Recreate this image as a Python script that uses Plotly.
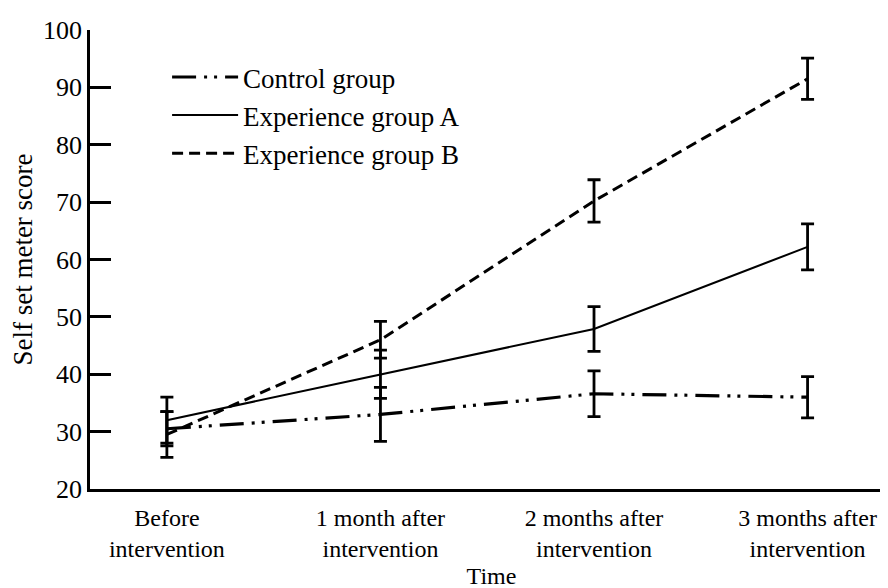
import plotly.graph_objects as go

categories = ["Before<br>intervention", "1 month after<br>intervention",
              "2 months after<br>intervention", "3 months after<br>intervention"]

control_mean = [30.5, 33.0, 36.6, 36.0]
control_err = [3.0, 4.7, 4.0, 3.6]

group_a_mean = [32.0, 40.0, 47.9, 62.2]
group_a_err = [4.0, 4.2, 3.9, 4.0]

group_b_mean = [29.5, 46.0, 70.2, 91.5]
group_b_err = [4.0, 3.2, 3.7, 3.6]

y_ticks = [20, 30, 40, 50, 60, 70, 80, 90, 100]

FONT = "Liberation Serif, Times New Roman, serif"

def err(vals):
    return dict(type="data", array=vals, visible=True, color="black",
                thickness=2.8, width=6.5)

fig = go.Figure()
fig.add_trace(go.Scatter(
    x=categories, y=control_mean, name="Control group", mode="lines",
    line=dict(color="black", width=3.2, dash="24px,8px,3px,7px,3px,8px"),
    error_y=err(control_err), legendgroup="c"))
fig.add_trace(go.Scatter(
    x=categories, y=group_a_mean, name="Experience group A", mode="lines",
    line=dict(color="black", width=2), error_y=err(group_a_err), legendgroup="a"))
fig.add_trace(go.Scatter(
    x=categories, y=group_b_mean, name="Experience group B", mode="lines",
    line=dict(color="black", width=3, dash="11px,6px"),
    error_y=err(group_b_err), legendgroup="b"))

fig.update_layout(
    template="none",
    width=888, height=588,
    margin=dict(l=82, r=3, t=22, b=107, autoexpand=False),
    paper_bgcolor="white", plot_bgcolor="white",
    font=dict(family=FONT, color="black", size=24),
    showlegend=True,
    legend=dict(x=0.096, y=0.95, xanchor="left", yanchor="top",
                font=dict(family=FONT, size=27, color="black"),
                bgcolor="rgba(0,0,0,0)", borderwidth=0, tracegroupgap=0,
                traceorder="grouped", itemwidth=66),
    xaxis=dict(type="category", range=[-0.36, 3.40], showgrid=False,
               showline=True, linecolor="black", linewidth=2.5,
               ticks="", tickfont=dict(family=FONT, size=24, color="black"),
               ticklabelstandoff=5, automargin=False,
               title=dict(text="Time", font=dict(family=FONT, size=24, color="black"),
                          standoff=7),
               zeroline=False),
    yaxis=dict(range=[20, 100], tickvals=y_ticks, showgrid=False,
               showline=True, linecolor="black", linewidth=2.5,
               ticks="inside", ticklen=21, tickwidth=2.5, tickcolor="black",
               tickfont=dict(family=FONT, size=26, color="black"),
               automargin=False,
               title=dict(text="Self set meter score",
                          font=dict(family=FONT, size=27, color="black"),
                          standoff=15),
               zeroline=False),
)

fig.write_html("out.html")
